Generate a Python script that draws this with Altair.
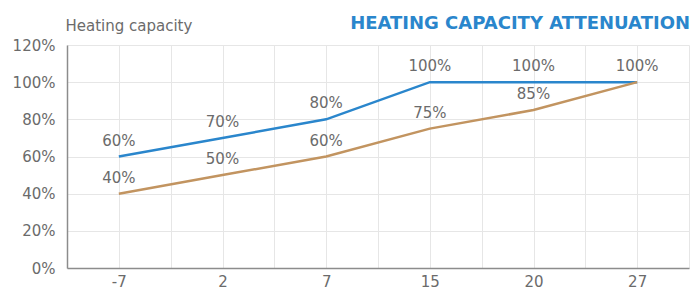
import altair as alt
import pandas as pd

temps = ["-7", "2", "7", "15", "20", "27"]
blue_vals = [0.60, 0.70, 0.80, 1.00, 1.00, 1.00]
brown_vals = [0.40, 0.50, 0.60, 0.75, 0.85, 1.00]
y_ticks = [0, 0.2, 0.4, 0.6, 0.8, 1.0, 1.2]
title_text = "HEATING CAPACITY ATTENUATION"

rows = []
for i, t in enumerate(temps):
    rows.append({"idx": i, "temp": t, "value": blue_vals[i], "series": "A", "show": True})
    rows.append({"idx": i, "temp": t, "value": brown_vals[i], "series": "B",
                 "show": brown_vals[i] != blue_vals[i]})
df = pd.DataFrame(rows)

x_vals = [v / 2 for v in range(-1, 2 * len(temps))]
label_expr = ("datum.value % 1 == 0 ? " + str(temps) + "[datum.value] : ''")

FONT = "DejaVu Sans"
GRAY = "#6b6b6b"
BLUE = "#2a86cc"

x = alt.X("idx:Q",
          scale=alt.Scale(domain=[-0.5, len(temps) - 0.5], nice=False, zero=False),
          axis=alt.Axis(values=x_vals, labelExpr=label_expr, ticks=False, title=None,
                        grid=True, gridColor="#e6e6e6", domainColor="#8c8c8c",
                        domainWidth=1.5, labelFontSize=15, labelColor=GRAY,
                        labelFont=FONT, labelPadding=6, labelOverlap=False))
y = alt.Y("value:Q",
          scale=alt.Scale(domain=[0, 1.2], nice=False),
          axis=alt.Axis(values=y_ticks, format=".0%", ticks=False,
                        title="Heating capacity", titleAngle=0, titleAlign="left",
                        titleBaseline="alphabetic", titleX=-2, titleY=-15,
                        titleFont=FONT, titleFontSize=15, titleFontWeight="normal",
                        titleColor=GRAY, grid=True, gridColor="#e6e6e6",
                        domainColor="#8c8c8c", domainWidth=1.5, labelFontSize=15,
                        labelColor=GRAY, labelFont=FONT, labelPadding=12,
                        labelOverlap=False))

color = alt.Color("series:N", scale=alt.Scale(domain=["A", "B"], range=[BLUE, "#c29460"]),
                  legend=None)

lines = alt.Chart(df).mark_line(strokeWidth=2.5).encode(x=x, y=y, color=color)
labels = alt.Chart(df).transform_filter("datum.show").mark_text(
    dy=-16, fontSize=15, font=FONT, color=GRAY, baseline="middle").encode(
    x=x, y=y, text=alt.Text("value:Q", format=".0%"))

title = alt.Chart(pd.DataFrame({"t": [title_text]})).mark_text(
    align="right", baseline="alphabetic", font=FONT, fontSize=18, fontWeight="bold",
    color=BLUE).encode(x=alt.value(623), y=alt.value(-16), text="t:N")

chart = alt.layer(lines, labels, title).properties(
    width=622, height=223,
    autosize=alt.AutoSizeParams(type="none"),
    padding={"left": 59, "top": 37, "right": 2, "bottom": 24},
).configure_view(stroke=None)

chart.save("out.html", embed_options={"renderer": "svg", "actions": False})
